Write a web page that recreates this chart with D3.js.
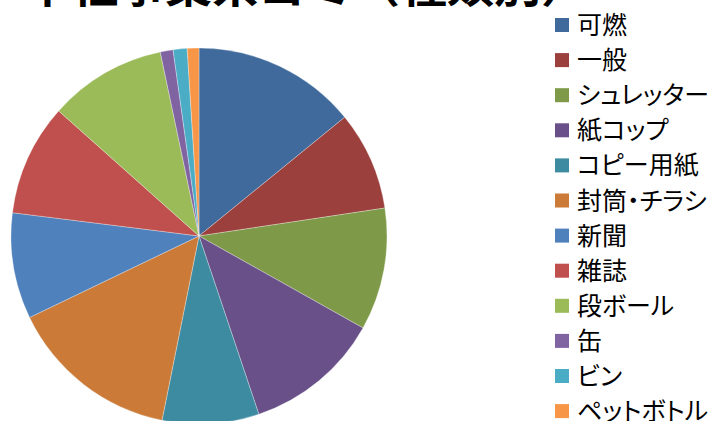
<!DOCTYPE html>
<html>
<head>
  <meta charset="utf-8">
  <script src="https://d3js.org/d3.v7.min.js"></script>
  <style>
    body {
      margin: 0;
      background: white;
      font-family: "Noto Sans CJK JP", sans-serif;
    }
    .title {
      font-size: 47px;
      font-weight: bold;
    }
    .legend text {
      font-size: 25px;
      font-feature-settings: "palt";
    }
  </style>
</head>
<body>
  <div id="chart"></div>

  <script>
    // categories, values (share in %), colours
    const categories = ['可燃', '一般', 'シュレッター', '紙コップ', 'コピー用紙', '封筒・チラシ',
                        '新聞', '雑誌', '段ボール', '缶', 'ビン', 'ペットボトル'];
    const values = [14.1, 8.5, 10.5, 11.7, 8.3, 14.7, 9.1, 9.6, 10.1, 1.1, 1.2, 1.0];
    const colors = ['#3f6a9b', '#9b403d', '#7e9a48', '#695088', '#3c8ba1', '#cb7b37',
                    '#4f81bd', '#c0504d', '#9bbb59', '#8064a2', '#4bacc6', '#f79646'];
    const titleText = '本社事業系ゴミ（種類別）';

    const width = 712, height = 421;
    const svg = d3.select('#chart')
      .append('svg')
      .attr('width', width)
      .attr('height', height);

    // title, mostly cut off by the top edge like the original
    svg.append('text')
      .attr('class', 'title')
      .attr('x', 24)
      .attr('y', 2)
      .text(titleText);

    const data = categories.map((c, i) => ({ name: c, value: values[i], color: colors[i] }));

    const pie = d3.pie()
      .sort(null)
      .value(d => d.value);

    const radius = 188;
    const arc = d3.arc().innerRadius(0).outerRadius(radius);

    const g = svg.append('g')
      .attr('transform', 'translate(199,236)');

    g.selectAll('path')
      .data(pie(data))
      .join('path')
      .attr('d', arc)
      .attr('fill', d => d.data.color)
      .attr('stroke', 'rgba(255,255,255,0.5)')
      .attr('stroke-width', 0.6);

    // legend
    const rowH = 35.1;
    const legend = svg.append('g')
      .attr('class', 'legend')
      .attr('transform', 'translate(555,25)');

    const item = legend.selectAll('g')
      .data(data)
      .join('g')
      .attr('transform', (d, i) => `translate(0,${i * rowH})`);

    item.append('rect')
      .attr('x', 0)
      .attr('y', -7)
      .attr('width', 14)
      .attr('height', 14)
      .attr('fill', d => d.color);

    item.append('text')
      .attr('x', 22)
      .attr('y', 0)
      .attr('dy', '0.36em')
      .text(d => d.name);
  </script>
</body>
</html>
